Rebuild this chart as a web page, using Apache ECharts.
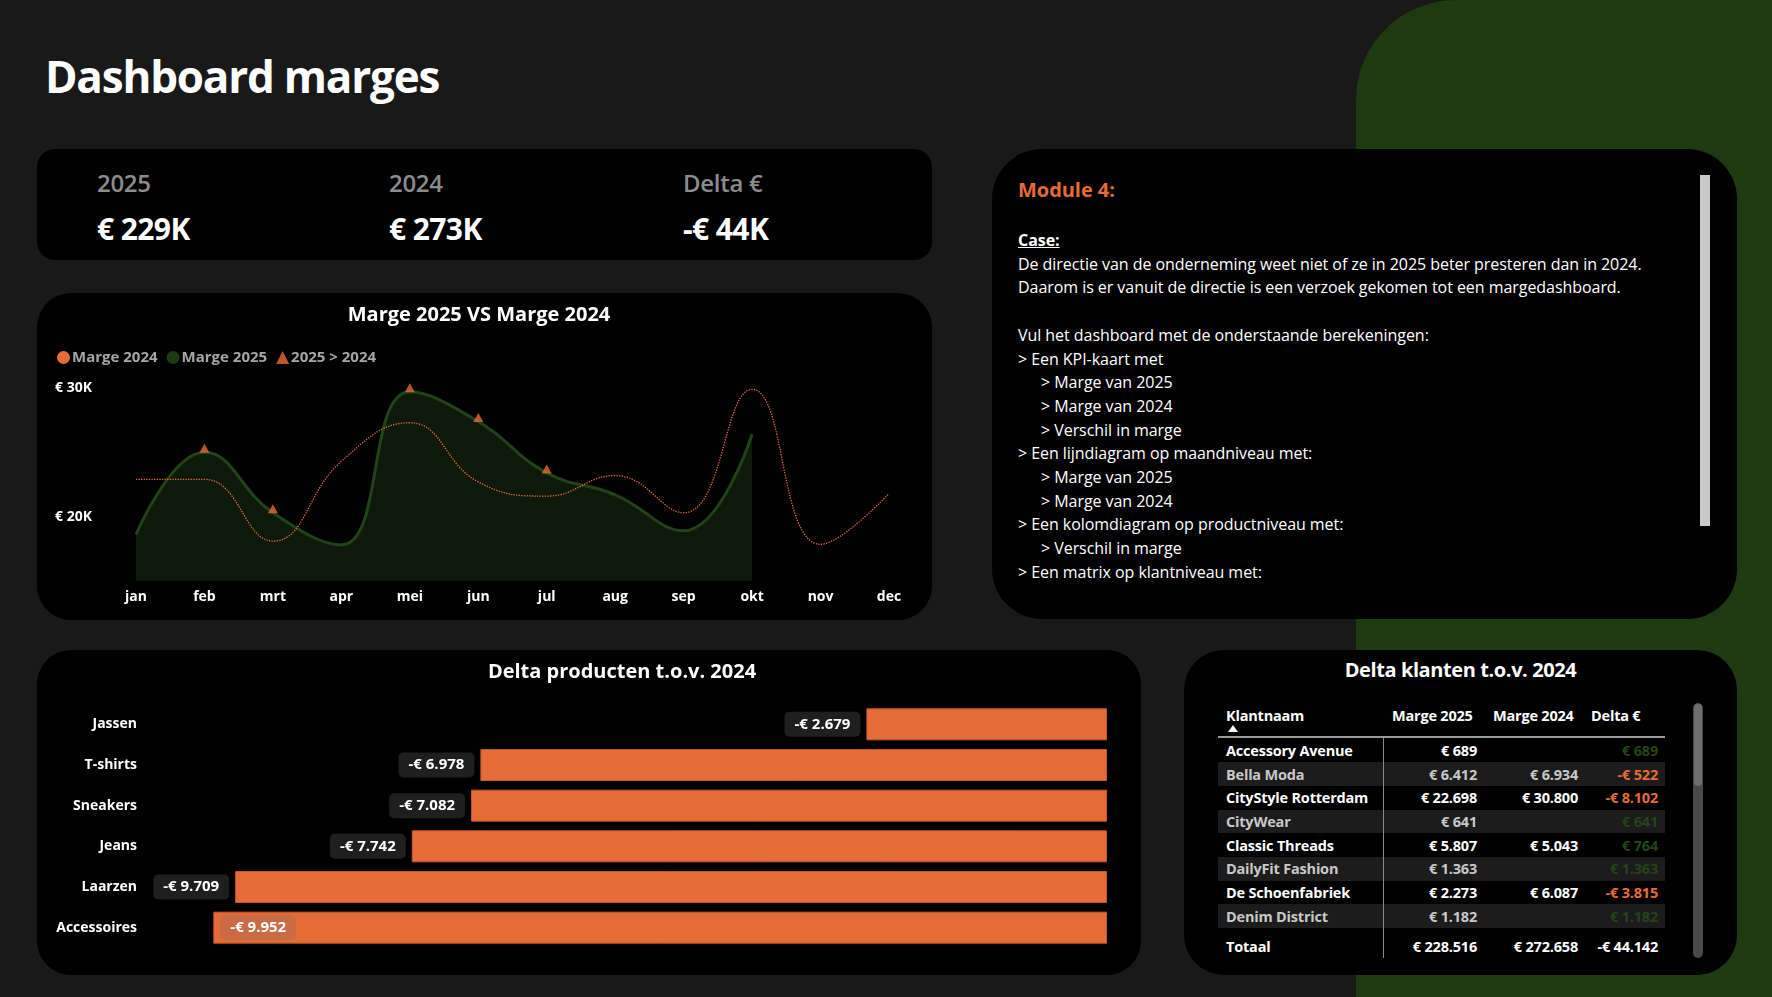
<!DOCTYPE html>
<html><head><meta charset="utf-8">
<script src="https://cdn.jsdelivr.net/npm/echarts/dist/echarts.min.js"></script>
<style>
html,body{margin:0;padding:0;width:1772px;height:997px;overflow:hidden;background:#191919;font-family:"Open Sans","Noto Sans",sans-serif;color:#fff;}
.abs{position:absolute;}
.card{position:absolute;background:#000;overflow:hidden;}
#green{left:1356px;top:0;width:416px;height:997px;background:#1e3a11;border-top-left-radius:100px;}
#title{left:45px;top:46px;font-size:44px;font-weight:700;letter-spacing:-1.2px;white-space:nowrap;}
.kl{font-size:24px;font-weight:600;color:#8c8c8c;transform:translateY(-50%);white-space:nowrap;letter-spacing:-0.3px;}
.kv{font-size:30px;font-weight:700;color:#fff;transform:translateY(-50%);white-space:nowrap;letter-spacing:-0.6px;}
#txt{left:26px;top:28px;width:680px;font-size:16px;line-height:23.7px;letter-spacing:-0.05px;white-space:nowrap;}
#txt .mod{color:#e66c37;font-weight:700;font-size:20px;height:52px;line-height:26px;}
#txt .case{font-weight:700;text-decoration:underline;}
#txt .ind{padding-left:23px;}
.tt{font-size:20px;font-weight:700;white-space:nowrap;letter-spacing:-0.4px;}
#tbl .cell{position:absolute;font-size:14.5px;font-weight:700;white-space:nowrap;transform:translateY(-50%);letter-spacing:-0.2px;}
</style></head>
<body>
<div id="green" class="abs"></div>
<div id="title" class="abs">Dashboard marges</div>

<div class="card" style="left:37px;top:149px;width:895px;height:111px;border-radius:18px;" id="kpi"></div>

<div class="card" style="left:37px;top:293px;width:895px;height:327px;border-radius:34px;">
  <div id="lineChart" style="position:absolute;left:0;top:0;width:895px;height:327px;"></div>
</div>

<div class="card" style="left:992px;top:149px;width:745px;height:470px;border-radius:50px;">
  <div id="txt" class="abs"></div>
  <div class="abs" style="left:708px;top:26px;width:10px;height:351px;background:#c8c8c8;"></div>
</div>

<div class="card" style="left:37px;top:650px;width:1104px;height:325px;border-radius:34px;">
  <div id="barChart" style="position:absolute;left:0;top:0;width:1104px;height:325px;"></div>
</div>

<div class="card" style="left:1184px;top:650px;width:553px;height:325px;border-radius:40px;" id="tbl"></div>

<script>
// ---------- DATA ----------
const kpiLabels = ['2025', '2024', 'Delta €'];
const kpiValues = ['€ 229K', '€ 273K', '-€ 44K'];

const months = ['jan','feb','mrt','apr','mei','jun','jul','aug','sep','okt','nov','dec'];
const marge2024 = [22900, 22900, 18100, 24300, 27300, 22700, 21600, 23200, 20300, 29900, 17850, 21800];
const marge2025 = [18600, 25000, 20300, 17800, 29700, 27400, 23400, 21700, 18900, 26400, null, null];

const products = ['Jassen','T-shirts','Sneakers','Jeans','Laarzen','Accessoires'];
const deltaProducts = [-2679, -6978, -7082, -7742, -9709, -9952];

const clients = ['Accessory Avenue','Bella Moda','CityStyle Rotterdam','CityWear','Classic Threads','DailyFit Fashion','De Schoenfabriek','Denim District'];
const clientMarge2025 = [689, 6412, 22698, 641, 5807, 1363, 2273, 1182];
const clientMarge2024 = [null, 6934, 30800, null, 5043, null, 6087, null];
const clientDelta = [689, -522, -8102, 641, 764, 1363, -3815, 1182];
const totals = [228516, 272658, -44142];

const caseLines = [
  {t:'Case:', c:'case'},
  {t:'De directie van de onderneming weet niet of ze in 2025 beter presteren dan in 2024.'},
  {t:'Daarom is er vanuit de directie is een verzoek gekomen tot een margedashboard.'},
  {t:'\u00a0'},
  {t:'Vul het dashboard met de onderstaande berekeningen:'},
  {t:'> Een KPI-kaart met'},
  {t:'> Marge van 2025', c:'ind'},
  {t:'> Marge van 2024', c:'ind'},
  {t:'> Verschil in marge', c:'ind'},
  {t:'> Een lijndiagram op maandniveau met:'},
  {t:'> Marge van 2025', c:'ind'},
  {t:'> Marge van 2024', c:'ind'},
  {t:'> Een kolomdiagram op productniveau met:'},
  {t:'> Verschil in marge', c:'ind'},
  {t:'> Een matrix op klantniveau met:'}
];

// ---------- helpers ----------
const ORANGE = '#e66c37';
function eur(v){
  const s = Math.abs(Math.round(v)).toString().replace(/\B(?=(\d{3})+(?!\d))/g,'.');
  return (v < 0 ? '-' : '') + '€ ' + s;
}

// ---------- KPI ----------
(function(){
  const k = document.getElementById('kpi');
  const xs = [60, 352, 646];
  kpiLabels.forEach((l,i)=>{
    const a = document.createElement('div'); a.className='abs kl'; a.style.left=xs[i]+'px'; a.style.top='33px'; a.textContent=l; k.appendChild(a);
    const b = document.createElement('div'); b.className='abs kv'; b.style.left=xs[i]+'px'; b.style.top='79px'; b.textContent=kpiValues[i]; k.appendChild(b);
  });
})();

// ---------- text module ----------
(function(){
  const t = document.getElementById('txt');
  let h = '<div class="mod">Module 4:</div>';
  caseLines.forEach(l=>{
    if (l.c === 'case') h += '<div><span class="case">' + l.t + '</span></div>';
    else h += '<div' + (l.c ? ' class="'+l.c+'"' : '') + '>' + l.t + '</div>';
  });
  t.innerHTML = h;
})();

// ---------- line chart ----------
const lineChart = echarts.init(document.getElementById('lineChart'));
const above = marge2025.map((v,i)=> (v != null && v > marge2024[i]) ? v : null);
lineChart.setOption({
  backgroundColor: 'transparent',
  animation: false,
  title: { text: 'Marge 2025 VS Marge 2024', left: 437, top: 7, textAlign: 'center',
    textStyle: { color:'#fff', fontSize:20, fontWeight:'bold', fontFamily:'Open Sans' } },
  legend: { left: 15, top: 52, itemWidth: 13, itemHeight: 13, itemGap: 9,
    textStyle: { color:'#a6a6a6', fontSize:15, fontWeight:'bold', fontFamily:'Open Sans', padding:[0,0,0,-3] },
    data: [ {name:'Marge 2024', icon:'circle'}, {name:'Marge 2025', icon:'circle'}, {name:'2025 > 2024', icon:'triangle'} ] },
  grid: { left: 99, right: 43, top: 95, bottom: 39, containLabel: false },
  xAxis: { type:'category', data: months, boundaryGap:false,
    axisLine:{show:false}, axisTick:{show:false}, splitLine:{show:false},
    axisLabel:{ color:'#fff', fontSize:14, fontWeight:'bold', fontFamily:'Open Sans', margin:9 } },
  yAxis: { type:'value', min:15000, max:30000, interval:5000,
    axisLine:{show:false}, axisTick:{show:false}, splitLine:{show:false},
    axisLabel:{ color:'#fff', fontSize:14, fontWeight:'bold', fontFamily:'Open Sans', align:'left', margin:81,
      formatter: v => (v % 10000 === 0 && v > 15000) ? '€ ' + (v/1000) + 'K' : '' } },
  series: [
    { name:'Marge 2024', type:'line', data: marge2024, smooth:0.45, symbol:'none', color: ORANGE,
      lineStyle:{ color: ORANGE, width:1.3, type:'dotted' }, z:3 },
    { name:'Marge 2025', type:'line', data: marge2025, smooth:0.45, symbol:'none', color:'#1e3a12',
      lineStyle:{ color:'#22421a', width:3 }, areaStyle:{ color:'#0d1a09', opacity:1 }, z:2 },
    { name:'2025 > 2024', type:'scatter', data: above, symbol:'triangle', symbolSize:[10,9], symbolOffset:[0,-4],
      color: ORANGE, itemStyle:{ color: ORANGE }, z:5 }
  ]
});

// ---------- bar chart ----------
const barChart = echarts.init(document.getElementById('barChart'));
barChart.setOption({
  backgroundColor: 'transparent',
  animation: false,
  title: { text: 'Delta producten t.o.v. 2024', left: 580, top: 7, textAlign: 'center',
    textStyle: { color:'#fff', fontSize:20, fontWeight:'bold', fontFamily:'Open Sans' } },
  grid: { left: 172, right: 34, top: 54, bottom: 27, containLabel: false },
  xAxis: { type:'value', min:-10000, max:0, show:false },
  yAxis: { type:'category', data: products, inverse:true,
    axisLine:{show:false}, axisTick:{show:false}, splitLine:{show:false},
    axisLabel:{ color:'#fff', fontSize:14, fontWeight:'bold', fontFamily:'Open Sans', margin:72 } },
  series: [{
    type:'bar', barWidth:32,
    data: deltaProducts.map((v,i)=> i === products.length-1
      ? { value:v, label:{ position:'insideLeft', distance:7, backgroundColor:'#c96b45' } }
      : v),
    itemStyle:{ color: ORANGE, borderColor:'#c4572a', borderWidth:1 },
    label:{ show:true, position:'left', distance:6, formatter: p => eur(p.value),
      color:'#fff', fontSize:15, fontWeight:'bold', fontFamily:'Open Sans',
      backgroundColor:'#1f1f1f', borderRadius:5, padding:[5,10,5,10] }
  }]
});

// ---------- table ----------
(function(){
  const t = document.getElementById('tbl');
  function add(html, css, cls){ const d=document.createElement('div'); d.style.cssText='position:absolute;'+css; if(cls) d.className=cls; d.innerHTML=html; t.appendChild(d); return d; }
  function cell(text, x, y, align, color){
    const d = document.createElement('div'); d.className='cell';
    d.style.top = y+'px'; d.style.color = color || '#fff';
    if (align === 'right') { d.style.right = (553 - x) + 'px'; d.style.textAlign='right'; }
    else d.style.left = x + 'px';
    d.textContent = text; t.appendChild(d);
  }
  add('Delta klanten t.o.v. 2024', 'left:0;width:553px;top:6px;text-align:center;', 'tt');
  const rowH = 23.7, y0 = 88.5;
  for (let i=0;i<clients.length;i++){
    if (i % 2 === 1) add('', 'left:34px;top:'+(y0+i*rowH)+'px;width:447px;height:'+rowH+'px;background:#1c1c1c;');
  }
  add('', 'left:34px;top:86px;width:447px;height:2px;background:#9a9a9a;');
  add('', 'left:199px;top:88px;width:1px;height:220px;background:#8a8a8a;');
  // header
  cell('Klantnaam', 42, 65);
  cell('Marge 2025', 208, 65);
  cell('Marge 2024', 309, 65);
  cell('Delta €', 407, 65);
  add('', 'left:44px;top:75px;width:0;height:0;border-left:5px solid transparent;border-right:5px solid transparent;border-bottom:7px solid #fff;');
  for (let i=0;i<clients.length;i++){
    const y = y0 + i*rowH + rowH/2 - 0.5;
    const col = (i % 2 === 1) ? '#c8c8c8' : '#fff';
    cell(clients[i], 42, y, 'left', col);
    cell(eur(clientMarge2025[i]), 293, y, 'right', col);
    if (clientMarge2024[i] != null) cell(eur(clientMarge2024[i]), 394, y, 'right', col);
    cell(eur(clientDelta[i]), 474, y, 'right', clientDelta[i] < 0 ? ORANGE : '#24441a');
  }
  cell('Totaal', 42, 296);
  cell(eur(totals[0]), 293, 296, 'right');
  cell(eur(totals[1]), 394, 296, 'right');
  cell(eur(totals[2]), 474, 296, 'right');
  // scrollbar
  add('', 'left:509px;top:53px;width:10px;height:255px;border-radius:5px;background:#4a4a4a;');
  add('', 'left:510px;top:54px;width:8px;height:82px;border-radius:4px;background:#6e6e6e;');
})();
</script>
</body></html>
